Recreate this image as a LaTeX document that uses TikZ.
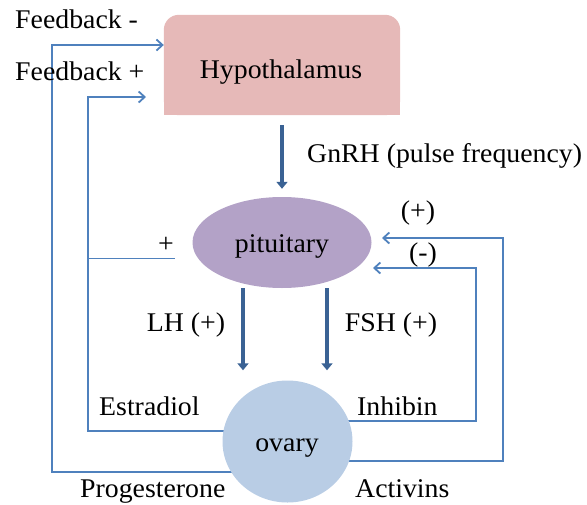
\documentclass[tikz,border=0pt]{standalone}
\usepackage{fontspec}
\setmainfont[FakeStretch=1.03]{Liberation Serif}
\usetikzlibrary{arrows.meta,shapes.geometric,backgrounds}
\definecolor{hypofill}{HTML}{E6B9B8}
\definecolor{pitfill}{HTML}{B3A2C7}
\definecolor{ovfill}{HTML}{B9CDE5}
\definecolor{fbline}{HTML}{4F81BD}
\definecolor{hormone}{HTML}{3A6294}
\begin{document}
\begin{tikzpicture}[x=1pt,y=-1pt,
  txt/.style={inner sep=0pt, font=\fontsize{27}{32}\selectfont},
  fb/.style={draw=fbline, line width=1.8pt},
  fbarrow/.style={fb, -{Straight Barb[length=6pt,width=11pt]}},
  hormarrow/.style={draw=hormone, line width=4pt, -{Triangle[length=7pt,width=11pt]}},
]
\useasboundingbox (0,0) rectangle (587,504);

% Hypothalamus box
\node[draw=none, minimum width=236pt, minimum height=100pt, inner sep=0pt] (hyp) at (282,65) {};
\fill[hypofill, rounded corners=15pt] (hyp.south west) rectangle (hyp.north east);
\fill[hypofill] (hyp.south west) rectangle ([yshift=20pt]hyp.south east);
\node[txt, anchor=base] (hyptxt) at (281,78) {Hypothalamus};

% Pituitary
\node[ellipse, fill=pitfill, minimum width=179pt, minimum height=91pt, inner sep=0pt] (pit) at (282,242.5) {};
\node[txt] (pittxt) at (282,246) {pituitary};

% Ovary
\node[ellipse, fill=ovfill, minimum width=130pt, minimum height=122pt, inner sep=0pt] (ov) at (287.5,441.5) {};
\node[txt] (ovtxt) at (287,448) {ovary};

% free ends
\coordinate (fbplus) at (146,97);
\coordinate (plusend) at (175,258.5);
\coordinate (pitplus) at (382,238);
\coordinate (pitminus) at (373,268);

\begin{scope}[on background layer]
\draw[fbarrow] ([yshift=-30.5pt]ov.center) -| (52,45) -- (hyp.west |- 0,45);
\draw[fbarrow] ([yshift=10.5pt]ov.center) -| (88,97) -- (fbplus);
\draw[fb] (88,258.5) -- (plusend);
\draw[fbarrow] ([yshift=-19.5pt]ov.center) -| (503,238) -- (pitplus);
\draw[fbarrow] ([yshift=20.5pt]ov.center) -| (476,268) -- (pitminus);
\end{scope}

% hormone arrows
\draw[hormarrow] ([yshift=-10pt]hyp.south) -- ([yshift=8pt]pit.north);
\draw[hormarrow] (pit.south -| 243,0) -- ([yshift=10pt]ov.north -| 243,0);
\draw[hormarrow] (pit.south -| 327,0) -- ([yshift=10pt]ov.north -| 327,0);

% labels
\node[txt, anchor=base west] (fbminus) at (15,28) {Feedback -};
\node[txt, anchor=base west] (fbplustxt) at (15,80) {Feedback +};
\node[txt, anchor=base west] (gnrh) at (307,162) {GnRH (pulse frequency)};
\node[txt] (plus) at (166,245) {+};
\node[txt] (plusp) at (418,213.5) {(+)};
\node[txt] (minusp) at (423,255) {(-)};
\node[txt] (lh) at (186,325) {LH (+)};
\node[txt] (fsh) at (391,325) {FSH (+)};
\node[txt, anchor=base west] (estr) at (99,415) {Estradiol};
\node[txt, anchor=base west] (inh) at (357,415) {Inhibin};
\node[txt, anchor=base west] (prog) at (80,497) {Progesterone};
\node[txt, anchor=base west] (act) at (355,497) {Activins};
\end{tikzpicture}
\end{document}
